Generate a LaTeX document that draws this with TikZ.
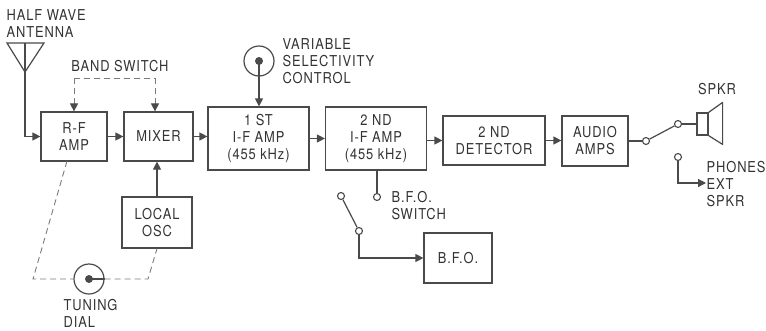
\documentclass[tikz,border=0pt]{standalone}
\usepackage{fontspec}
\newfontfamily\lbl[LetterSpace=6,FakeStretch=0.86]{TeX Gyre Heros}
\usetikzlibrary{arrows.meta}
\definecolor{ink}{HTML}{4A4A4A}
\definecolor{txt}{HTML}{333333}
\definecolor{dink}{HTML}{7A7A7A}
\begin{document}
\begin{tikzpicture}[x=1pt,y=-1pt,color=ink,line width=1.2pt,
  every node/.style={font=\lbl\fontsize{15}{17}\selectfont,text=txt},
  blk/.style={draw=ink,rectangle,align=center,inner sep=0pt,line width=1.2pt},
  lab/.style={inner sep=0pt,align=left},
  term/.style={draw=ink,circle,fill=white,inner sep=0pt,minimum size=7pt,line width=1.1pt},
  knob/.style={draw=ink,circle,inner sep=0pt,minimum size=30pt,line width=1.2pt},
  dot/.style={circle,fill=ink,inner sep=0pt,minimum size=8pt},
  arr/.style={-{Triangle[length=8pt,width=8pt]}},
  darr/.style={-{Triangle[length=8pt,width=8pt,color=ink]}},
  dsh/.style={draw=dink,dash pattern=on 6pt off 4pt,line width=0.9pt}]
\useasboundingbox (0,0) rectangle (766,330);

% blocks
\node[blk,minimum width=66pt,minimum height=49pt] (rf) at (74,136.5) {R-F\\AMP};
\node[blk,minimum width=69pt,minimum height=49pt] (mix) at (158.5,136.5) {MIXER};
\node[blk,minimum width=70pt,minimum height=51pt] (osc) at (157,222.5) {LOCAL\\OSC};
\node[blk,minimum width=101pt,minimum height=63pt] (if1) at (258.5,138.5) {1 ST\\I-F AMP\\(455 kHz)};
\node[blk,minimum width=101pt,minimum height=63pt] (if2) at (376,138.5) {2 ND\\I-F AMP\\(455 kHz)};
\node[blk,minimum width=102pt,minimum height=49pt] (det) at (494,140.5) {2 ND\\DETECTOR};
\node[blk,minimum width=66pt,minimum height=50pt] (aud) at (595,141) {AUDIO\\AMPS};
\node[blk,minimum width=68pt,minimum height=50pt] (bfo) at (458,258) {B.F.O.};

% labels
\node[lab,anchor=north west] (tant) at (6,9) {HALF WAVE\\ANTENNA};
\node[lab] (tbs) at (120,66) {BAND SWITCH};
\node[lab,anchor=west] (tvsc) at (282,61) {VARIABLE\\SELECTIVITY\\CONTROL};
\node[lab,anchor=north west] (ttd) at (63,299) {TUNING\\DIAL};
\node[lab,anchor=north west] (tbs2) at (391,191) {B.F.O.\\SWITCH};
\node[lab] (tspk) at (717,89) {SPKR};
\node[lab,anchor=north west] (tph) at (706,161) {PHONES\\EXT\\SPKR};

% antenna
\coordinate (atl) at (7,43);
\coordinate (atr) at (44,43);
\coordinate (atm) at (25,43);
\coordinate (ap) at (25,72);
\draw (atl) -- (ap) -- (atr) -- cycle;
\draw (atm) -- (ap);
\draw[arr] (ap) |- (rf.west);

% main chain
\draw[arr] (rf.east) -- (mix.west);
\draw[arr] (mix.east) -- (mix.east -| if1.west);
\draw[arr] (if1.east) -- (if1.east -| if2.west);
\draw[arr] (if2.east |- det.west) -- (det.west);
\draw[arr] (det.east) -- (det.east -| aud.west);
\draw[arr] (osc.north) -- (mix.south -| osc.north);

% band switch
\coordinate (bsl) at (74,78);
\coordinate (bsr) at (155,78);
\draw[dsh] (bsl) -- (bsr);
\draw[dsh,darr] (bsl) -- (bsl |- rf.north);
\draw[dsh,darr] (bsr) -- (bsr |- mix.north);

% variable selectivity control
\node[knob] (vc) at (259,61) {};
\node[dot] (vcd) at (259,61) {};
\draw[arr] (vcd.center) -- (vcd.center |- if1.north);

% tuning dial
\node[knob] (td) at (89,279) {};
\node[dot] (tdd) at (89,279) {};
\draw (tdd.center) -- (td.east);
\coordinate (rfb) at (67,161);
\coordinate (tdl) at (33,279);
\coordinate (tdr) at (148,279);
\draw[dsh] (rfb) -- (tdl) -- (td.west);
\draw[dsh] (td.east) -- (tdr) -- (osc.south);

% BFO switch
\node[term] (b1) at (377,197) {};
\node[term] (b2) at (341,196) {};
\node[term] (b3) at (359,231) {};
\draw (if2.south -| b1) -- (b1);
\draw (b2) -- (b3);
\draw[arr] (b3) |- (bfo.west);

% output switch and speaker
\node[term] (s1) at (646,141) {};
\node[term] (s2) at (678,124) {};
\node[term] (s3) at (678,157) {};
\node[draw=ink,rectangle,inner sep=0pt,minimum width=11pt,minimum height=22pt,line width=1.2pt] (spk) at (702.5,124) {};
\draw (aud.east |- s1) -- (s1);
\draw (s1) -- (s2);
\draw (s2) -- (spk.west);
\draw[line join=round] (spk.north east) -- ++(14,-10) -- ++(0,42) -- (spk.south east);
\coordinate (ph) at (706,183);
\draw[arr] (s3) |- (ph);
\end{tikzpicture}
\end{document}
